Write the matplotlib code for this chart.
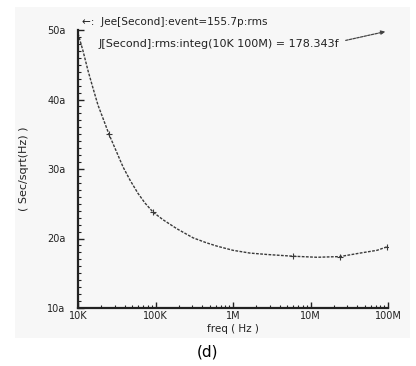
import numpy as np
import matplotlib
matplotlib.use("Agg")
from matplotlib import pyplot as plt
from matplotlib.patches import Rectangle
from matplotlib.ticker import FixedLocator, LogLocator, NullFormatter

# values (freq in Hz, noise in "a" units)
freq = [1e4, 1.16e4, 1.35e4, 1.56e4, 1.81e4, 2.10e4, 2.51e4, 3.19e4, 3.81e4,
        4.69e4, 5.94e4, 7.32e4, 9.29e4, 1.25e5, 1.89e5, 3.05e5, 4.5e5,
        6.22e5, 1.0e6, 1.66e6, 2.75e6, 5.94e6, 1.21e7, 2.4e7, 4.35e7,
        7.21e7, 9.7e7]
noise = [49.5, 47.0, 44.1, 41.65, 39.2, 37.3, 35.0, 32.3, 30.3,
         28.4, 26.5, 25.1, 23.8, 22.7, 21.4, 20.1, 19.4,
         18.9, 18.3, 17.9, 17.7, 17.45, 17.3, 17.4, 17.9,
         18.3, 18.8]
marker_idx = [6, 12, 21, 23, 26]

y_ticks = [10, 20, 30, 40, 50]
y_labels = ["10a", "20a", "30a", "40a", "50a"]
x_ticks = [1e4, 1e5, 1e6, 1e7, 1e8]
x_labels = ["10K", "100K", "1M", "10M", "100M"]

fig = plt.figure(figsize=(4.16, 3.66), dpi=100)
fig.patch.set_facecolor("white")

# light gray panel behind the plot
fig.patches.append(Rectangle((15 / 416, 1 - 338 / 366), 395 / 416, 331 / 366,
                             transform=fig.transFigure, facecolor="#f7f7f7",
                             edgecolor="none", zorder=-10))

ax = fig.add_axes([78 / 416, 1 - 308 / 366, 310 / 416, 278 / 366])
ax.set_facecolor("none")
ax.set_xscale("log")
ax.set_xlim(1e4, 1e8)
ax.set_ylim(10, 50)

ax.plot(freq, noise, color="#3a3a3a", lw=1.0, ls=(0, (2, 1)))
ax.plot([freq[i] for i in marker_idx], [noise[i] for i in marker_idx],
        ls="none", marker="+", ms=4, mew=0.8, color="#3a3a3a")

for s in ["top", "right"]:
    ax.spines[s].set_visible(False)
for s in ["left", "bottom"]:
    ax.spines[s].set_linewidth(1.6)
    ax.spines[s].set_color("#222222")

ax.set_yticks(y_ticks)
ax.set_yticklabels(y_labels)
ax.yaxis.set_minor_locator(FixedLocator(np.arange(10, 51, 1)))
ax.set_xticks(x_ticks)
ax.set_xticklabels(x_labels)
ax.xaxis.set_minor_locator(LogLocator(base=10, subs=np.arange(2, 10)))
ax.xaxis.set_minor_formatter(NullFormatter())

ax.tick_params(axis="both", which="major", direction="in", length=4, width=1,
               labelsize=7, colors="#222222")
ax.tick_params(axis="both", which="minor", direction="in", length=2, width=0.8,
               colors="#222222")
ax.tick_params(axis="y", which="major", pad=9)
ax.tick_params(axis="x", which="major", pad=2)

ax.set_xlabel("freq ( Hz )", fontsize=7.5, labelpad=2, color="#222222")
ax.set_ylabel("( Sec/sqrt(Hz) )", fontsize=8, labelpad=13, color="#222222")

# trace annotations
fig.text(82 / 416, 1 - 22 / 366, "\u2190:  Jee[Second]:event=155.7p:rms",
         fontsize=7.6, color="#222222", va="center")
fig.text(99 / 416, 1 - 44 / 366, "J[Second]:rms:integ(10K 100M) = 178.343f",
         fontsize=8, color="#222222", va="center")
ax.annotate("", xy=(388 / 416, 1 - 31 / 366), xycoords="figure fraction",
            xytext=(343 / 416, 1 - 41 / 366), textcoords="figure fraction",
            arrowprops=dict(arrowstyle="-|>", ls=(0, (2, 1)), lw=0.9,
                            color="#444444", mutation_scale=6),
            annotation_clip=False)

fig.text(207 / 416, 1 - 352 / 366, "(d)", fontsize=11, ha="center",
         va="center")

fig.savefig("out.png", dpi=100)
